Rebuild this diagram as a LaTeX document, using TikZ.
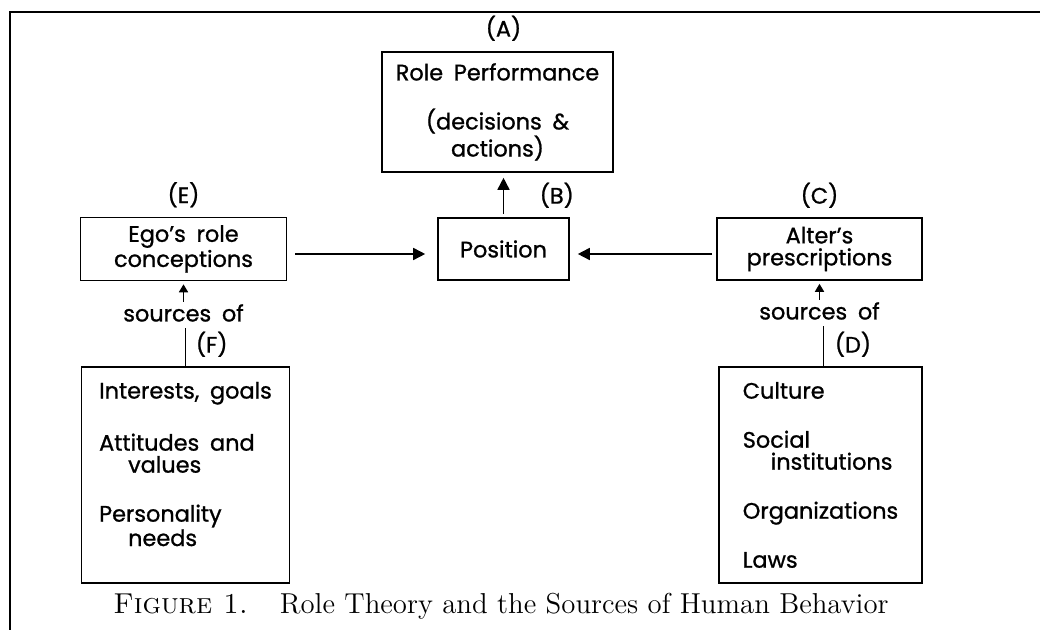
\documentclass[tikz,border=0pt]{standalone}
\usepackage{fontspec}
\usepackage{tikz}
\usetikzlibrary{arrows.meta,shapes,positioning}
\newfontfamily\diagfont[WordSpace=1.8,FakeBold=1]{Poppins}

\begin{document}
\begin{tikzpicture}[x=0.5pt,y=-0.5pt,>={Triangle[length=6pt,width=6pt]},font=\diagfont\fontsize{11.2}{11}\selectfont]
    \tikzstyle{box}=[rectangle,draw,line width=0.8pt,inner sep=0pt,align=center]
    \tikzstyle{sourcebox}=[box,align=left,minimum height=108pt]
    \tikzstyle{lbl}=[inner sep=0pt]
    \tikzstyle{src}=[inner sep=1pt]
    \tikzstyle{flow}=[->,line width=0.8pt]
    \tikzstyle{up}=[-{Triangle[length=4pt,width=4.5pt]},line width=0.8pt]
    \useasboundingbox (0,0) rectangle (1040,630);
    \draw[line width=1pt] (10,630) -- (10,12) -- (1040,12);
    \begin{scope}
    \node[box,minimum width=65.5pt,minimum height=31pt](pos) at (503.5,249){Position};
    \node[box,above of=pos,node distance=68.5pt,xshift=-3pt,minimum width=115.5pt,minimum height=60pt](perf){Role Performance\\[13.5pt](decisions \&\\actions)};
    \node[box,left of=pos,node distance=160pt,minimum width=103pt,minimum height=31.5pt](ego){Ego’s role\\conceptions};
    \node[box,right of=pos,node distance=158pt,minimum width=102.5pt,minimum height=31pt](alter){Alter’s\\prescriptions};
    \node[sourcebox,below of=ego,node distance=113pt,xshift=1pt,minimum width=104pt](interests){Interests, goals\\[13.5pt]
        Attitudes and\\\hspace*{14.5pt}values\\[13.5pt]
        Personality\\\hspace*{14.5pt}needs\\\mbox{}};
    \node[sourcebox,below of=alter,node distance=113pt,xshift=0.5pt,minimum width=101.5pt](culture){Culture\\[13.5pt]
        Social\\\hspace*{14pt}institutions\\[13.5pt]
        Organizations\\[13.5pt]
        Laws};
    \node[src,below of=ego,node distance=32pt](srcE){sources of};
    \node[src,below of=alter,node distance=31pt](srcC){sources of};
    \end{scope}
    % letters
    \node[lbl,above=5pt of perf,xshift=3pt](labA){(A)};
    \node[lbl,anchor=south](labB) at ([xshift=-6.5pt,yshift=4.5pt]pos.north east){(B)};
    \node[lbl,above=4.5pt of alter](labC){(C)};
    \node[lbl,anchor=south west](labD) at ([xshift=7pt,yshift=4.5pt]culture.north){(D)};
    \node[lbl,above=4.5pt of ego](labE){(E)};
    \node[lbl,anchor=south west](labF) at ([xshift=5pt,yshift=4.5pt]interests.north){(F)};
    % arrows
    \draw[flow,shorten <=1.5pt,shorten >=2.5pt] (pos.north) -- (pos.north |- perf.south);
    \draw[flow,shorten <=4pt,shorten >=6pt] ([yshift=-2.5pt]ego.east) -- ([yshift=-2.5pt]ego.east -| pos.west);
    \draw[flow,shorten <=2pt,shorten >=4pt] ([yshift=-2.5pt]alter.west) -- ([yshift=-2.5pt]alter.west -| pos.east);
    \draw[up,shorten >=1.5pt] (srcE.north) -- (srcE.north |- ego.south);
    \draw[up,shorten >=1.5pt] (srcC.north) -- (srcC.north |- alter.south);
    \draw[line width=0.8pt,shorten >=2pt] (interests.north) -- (interests.north |- srcE.south);
    \draw[line width=0.8pt,shorten >=2pt] ([xshift=1.5pt]culture.north) -- ([xshift=1.5pt]culture.north |- srcC.south);
    \node[font=\rmfamily\fontsize{14.4}{16}\selectfont](caption) at (501,606){\textsc{Figure 1.}\hspace{1.1em}Role Theory and the Sources of Human Behavior};
\end{tikzpicture}
\end{document}
